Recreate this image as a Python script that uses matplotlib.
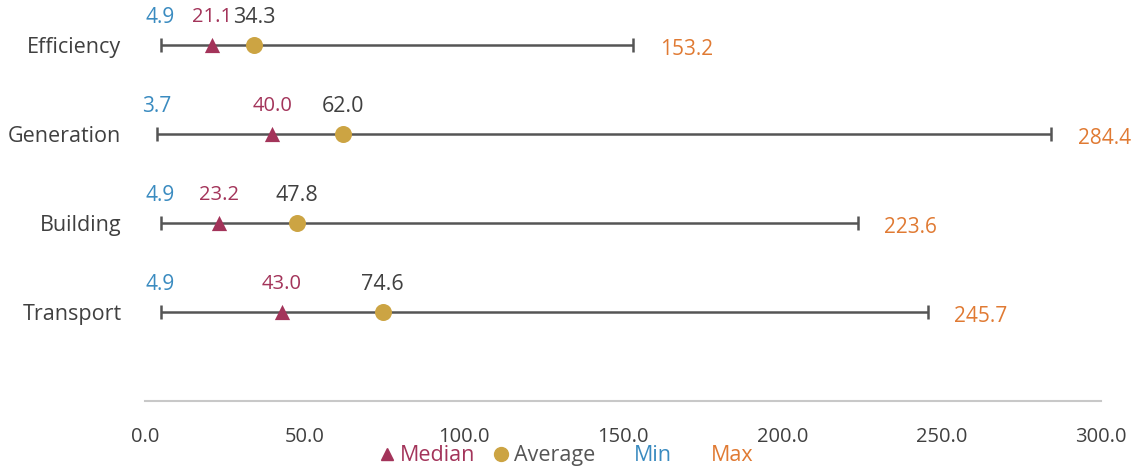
import matplotlib
matplotlib.use("Agg")
import matplotlib.pyplot as plt
from matplotlib.lines import Line2D

categories = ["Efficiency", "Generation", "Building", "Transport"]
min_vals = [4.9, 3.7, 4.9, 4.9]
median_vals = [21.1, 40.0, 23.2, 43.0]
avg_vals = [34.3, 62.0, 47.8, 74.6]
max_vals = [153.2, 284.4, 223.6, 245.7]
xticks = [0, 50, 100, 150, 200, 250, 300]

C_MED = "#A3345A"
C_AVG = "#CCA443"
C_MIN = "#3A8BC0"
C_MAX = "#E07A33"
C_LINE = "#555555"
C_TXT = "#404040"

plt.rcParams["font.family"] = ["Open Sans", "DejaVu Sans"]

fig = plt.figure(figsize=(11.43, 4.70), dpi=100)
ax = fig.add_axes([145/1143, 1-401/470, (1101-145)/1143, (401-0.5)/470])

ys = list(range(len(categories)))
ax.hlines(ys, min_vals, max_vals, color=C_LINE, lw=1.8, zorder=1)
ax.scatter(min_vals, ys, marker="|", s=110, color=C_LINE, lw=1.8, zorder=2)
ax.scatter(max_vals, ys, marker="|", s=110, color=C_LINE, lw=1.8, zorder=2)
ax.scatter(median_vals, ys, marker="^", s=120, color=C_MED, zorder=3, lw=0)
ax.scatter(avg_vals, ys, marker="o", s=150, color=C_AVG, zorder=4, lw=0)

for y, mn, md, av, mx in zip(ys, min_vals, median_vals, avg_vals, max_vals):
    ax.annotate(f"{mn:.1f}", (mn, y), xytext=(0, 20), textcoords="offset points",
                ha="center", va="center", color=C_MIN, fontsize=15)
    ax.annotate(f"{md:.1f}", (md, y), xytext=(0, 20), textcoords="offset points",
                ha="center", va="center", color=C_MED, fontsize=14.5)
    ax.annotate(f"{av:.1f}", (av, y), xytext=(0, 20), textcoords="offset points",
                ha="center", va="center", color=C_TXT, fontsize=15.5)
    ax.annotate(f"{mx:.1f}", (mx, y), xytext=(19, -3), textcoords="offset points",
                ha="left", va="center", color=C_MAX, fontsize=15, annotation_clip=False)

ax.set_ylim(4, -0.5)
ax.set_xlim(0, 300)
ax.set_xticks(xticks)
ax.set_xticklabels([f"{t:.1f}" for t in xticks], color=C_TXT, fontsize=14.5)
ax.set_yticks(ys)
ax.set_yticklabels(categories, color=C_TXT, fontsize=15.5)
ax.tick_params(axis="x", length=0, pad=19)
ax.tick_params(axis="y", length=0, pad=17)
for s in ["top", "right", "left"]:
    ax.spines[s].set_visible(False)
ax.spines["bottom"].set_color("#C8C8C8")
ax.spines["bottom"].set_linewidth(1.5)

handles = [
    Line2D([], [], marker="^", ls="none", color=C_MED, markersize=9),
    Line2D([], [], marker="o", ls="none", color=C_AVG, markersize=10),
    Line2D([], [], ls="none"),
    Line2D([], [], ls="none"),
]
leg = fig.legend(handles, ["Median", "Average", "Min", "Max"], loc="center",
                 bbox_to_anchor=(0.494, 0.030), ncol=4, frameon=False,
                 handletextpad=0.1, columnspacing=0.7, handlelength=1.0, fontsize=15.5)
for t, c in zip(leg.get_texts(), [C_MED, "#555555", C_MIN, C_MAX]):
    t.set_color(c)

fig.savefig("out.png", dpi=100)
